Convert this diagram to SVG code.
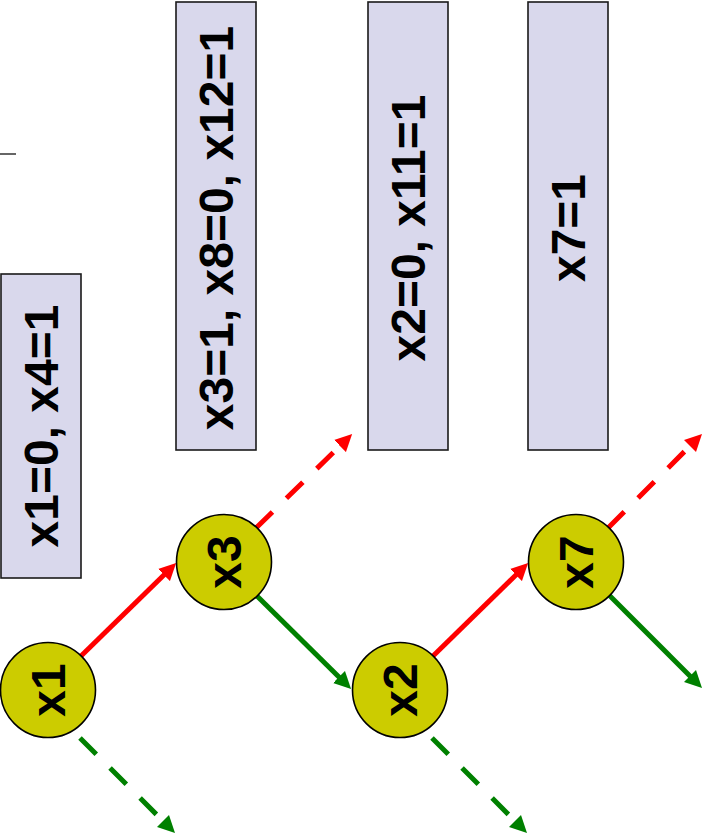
<svg xmlns="http://www.w3.org/2000/svg" width="702" height="834" viewBox="0 0 702 834">
<style>
.box{fill:#D9D8EC;stroke:#1a1a1a;stroke-width:1.6}
.node{fill:#CCCC00;stroke:#000;stroke-width:1.6}
.lbl{font-family:"Liberation Sans",Arial,sans-serif;font-weight:bold;font-size:48px;fill:#000;text-anchor:middle}
.red{stroke:#FF0000;stroke-width:5;fill:none;marker-end:url(#ahr)}
.green{stroke:#008000;stroke-width:5;fill:none;marker-end:url(#ahg)}
.dash{stroke-dasharray:23 19.5}
</style>
<defs>
<marker id="ahr" markerUnits="userSpaceOnUse" markerWidth="17" markerHeight="17" refX="1" refY="8.5" orient="auto" viewBox="0 0 17 17"><path d="M0,0 L17,8.5 L0,17 z" fill="#FF0000"/></marker>
<marker id="ahg" markerUnits="userSpaceOnUse" markerWidth="17" markerHeight="17" refX="1" refY="8.5" orient="auto" viewBox="0 0 17 17"><path d="M0,0 L17,8.5 L0,17 z" fill="#008000"/></marker>
</defs>
<rect width="702" height="834" fill="#fff"/>
<line x1="0" y1="154" x2="16" y2="154" stroke="#000" stroke-width="1.2"/>
<g id="box1"><rect class="box" x="1" y="274" width="80" height="304"/><text class="lbl" transform="translate(41,426) rotate(-90)" x="0" y="17">x1=0, x4=1</text></g>
<g id="box2"><rect class="box" x="176" y="2" width="80" height="448"/><text class="lbl" transform="translate(216,228) rotate(-90)" x="0" y="17">x3=1, x8=0, x12=1</text></g>
<g id="box3"><rect class="box" x="368" y="2" width="80" height="448"/><text class="lbl" transform="translate(408,228) rotate(-90)" x="0" y="17">x2=0, x11=1</text></g>
<g id="box4"><rect class="box" x="528" y="2" width="80" height="448"/><text class="lbl" transform="translate(568,228) rotate(-90)" x="0" y="17">x7=1</text></g>
<g id="connectors">
<path class="red" d="M80,657 L164.7,574.3"/>
<path class="red dash" d="M256,528 L340.7,445.3"/>
<path class="green" d="M257,596 L339.7,677.7"/>
<path class="green dash" d="M80,738 L163.7,821.7"/>
<path class="red" d="M432,657 L516.7,574.3"/>
<path class="red dash" d="M608,528 L690.7,445.3"/>
<path class="green" d="M609,595 L690.7,676.7"/>
<path class="green dash" d="M432,738 L515.7,821.7"/>
</g>
<g id="x1"><circle class="node" cx="48" cy="690" r="47.5"/><text class="lbl" transform="translate(48,690) rotate(-90)" x="0" y="17">x1</text></g>
<g id="x3"><circle class="node" cx="224" cy="562" r="47.5"/><text class="lbl" transform="translate(224,562) rotate(-90)" x="0" y="17">x3</text></g>
<g id="x2"><circle class="node" cx="400" cy="690" r="47.5"/><text class="lbl" transform="translate(400,690) rotate(-90)" x="0" y="17">x2</text></g>
<g id="x7"><circle class="node" cx="576" cy="562" r="47.5"/><text class="lbl" transform="translate(576,562) rotate(-90)" x="0" y="17">x7</text></g>
</svg>
